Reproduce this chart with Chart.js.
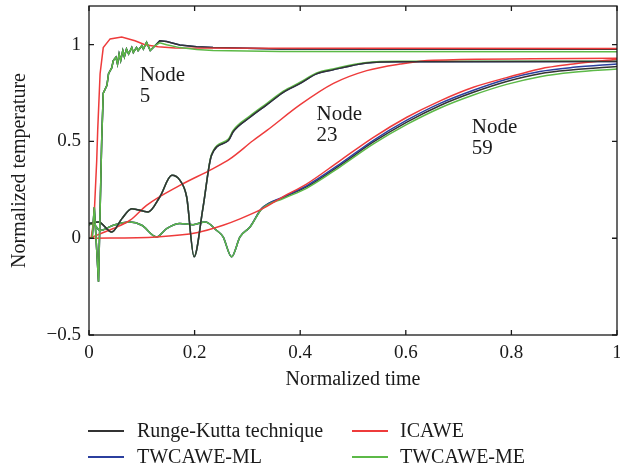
<!DOCTYPE html>
<html>
<head>
<meta charset="utf-8">
<script src="https://cdn.jsdelivr.net/npm/chart.js@4.4.1/dist/chart.umd.min.js"></script>
<style>
  body { margin: 0; background: #fff; }
  #wrap { position: relative; width: 620px; height: 470px; font-family: "Liberation Serif", "DejaVu Serif", serif; color: #1a1a1a; }
  .lg-line { position: absolute; width: 36px; height: 2px; }
  .lg-text { position: absolute; font-size: 20px; line-height: 20px; white-space: nowrap; }
</style>
</head>
<body>
<div id="wrap">
  <canvas id="chart" width="620" height="470"></canvas>
  <div class="lg-line" style="left:88px; top:430px; background:#333333"></div>
  <div class="lg-text" style="left:137px; top:420px">Runge-Kutta technique</div>
  <div class="lg-line" style="left:352px; top:430px; background:#ee3b3b"></div>
  <div class="lg-text" style="left:400px; top:420px">ICAWE</div>
  <div class="lg-line" style="left:88px; top:456px; background:#2b3f9e"></div>
  <div class="lg-text" style="left:137px; top:446px">TWCAWE-ML</div>
  <div class="lg-line" style="left:352px; top:456px; background:#5cb947"></div>
  <div class="lg-text" style="left:400px; top:446px">TWCAWE-ME</div>
</div>
<script>
// tick values
const xTickValues = [0, 0.2, 0.4, 0.6, 0.8, 1];
const yTickValues = [-0.5, 0, 0.5, 1];

// Node 5 - Runge-Kutta (TWCAWE follow it closely)
const rk5 = [[0,0],[0.006,0],[0.010,0.16],[0.018,-0.225],[0.024,0.5],[0.027,0.75],[0.034,0.79],[0.037,0.85],
  [0.043,0.88],[0.046,0.918],[0.051,0.935],[0.054,0.90],[0.057,0.952],[0.060,0.918],[0.064,0.97],[0.067,0.938],
  [0.071,0.978],[0.075,0.952],[0.081,0.986],[0.084,0.96],[0.090,0.986],[0.093,0.97],[0.100,0.995],[0.103,0.978],
  [0.109,1.012],[0.116,0.97],[0.125,0.995],[0.134,1.02],[0.147,1.017],[0.172,0.998],[0.204,0.99],[0.235,0.985],
  [0.362,0.978],[1,0.977]];
const me5 = [[0,0],[0.006,0],[0.010,0.16],[0.018,-0.225],[0.024,0.5],[0.027,0.75],[0.034,0.79],[0.037,0.85],
  [0.043,0.88],[0.046,0.918],[0.051,0.935],[0.054,0.90],[0.057,0.952],[0.060,0.918],[0.064,0.97],[0.067,0.938],
  [0.071,0.978],[0.075,0.952],[0.081,0.986],[0.084,0.96],[0.090,0.986],[0.093,0.97],[0.100,0.995],[0.103,0.978],
  [0.109,1.012],[0.116,0.97],[0.125,0.995],[0.134,1.01],[0.147,1.0],[0.172,0.985],[0.204,0.975],[0.235,0.97],
  [0.362,0.965],[1,0.963]];
const ic5 = [[0,0],[0.004,0],[0.0095,0.1],[0.0146,0.4],[0.0165,0.56],[0.021,0.85],[0.027,0.985],[0.04,1.03],
  [0.062,1.04],[0.087,1.02],[0.106,1.0],[0.131,0.99],[0.163,0.983],[1,0.981]];

// Node 23
const rk23 = [[0,0.076],[0.018,0.084],[0.043,0.032],[0.062,0.10],[0.081,0.153],[0.112,0.136],[0.134,0.213],
  [0.157,0.325],[0.172,0.30],[0.185,0.213],[0.199,-0.096],[0.216,0.16],[0.232,0.428],[0.264,0.505],[0.273,0.55],
  [0.305,0.625],[0.337,0.69],[0.368,0.754],[0.40,0.80],[0.431,0.849],[0.462,0.87],[0.526,0.905],[0.589,0.912],[1,0.913]];
const me23 = [[0,0.076],[0.018,0.084],[0.043,0.032],[0.062,0.10],[0.081,0.153],[0.112,0.136],[0.134,0.213],
  [0.157,0.325],[0.172,0.30],[0.185,0.213],[0.199,-0.096],[0.216,0.16],[0.232,0.432],[0.264,0.512],[0.273,0.557],
  [0.305,0.632],[0.337,0.697],[0.368,0.76],[0.40,0.806],[0.431,0.854],[0.462,0.875],[0.526,0.908],[0.589,0.914],[1,0.915]];
const ic23 = [[0,0],[0.046,0.05],[0.078,0.093],[0.109,0.17],[0.172,0.273],[0.235,0.36],[0.267,0.41],[0.311,0.505],
  [0.337,0.557],[0.40,0.69],[0.463,0.80],[0.526,0.866],[0.589,0.90],[0.652,0.92],[1,0.93]];

// Node 59
const rk59 = [[0,0.07],[0.007,0.076],[0.021,0.04],[0.046,0.067],[0.078,0.084],[0.10,0.067],[0.128,0.007],[0.147,0.05],
  [0.172,0.076],[0.197,0.07],[0.22,0.084],[0.242,0.04],[0.254,0.007],[0.27,-0.096],[0.286,0.007],[0.305,0.058],
  [0.327,0.153],[0.368,0.21],[0.412,0.265],[0.475,0.376],[0.538,0.496],[0.602,0.60],[0.665,0.686],[0.728,0.754],
  [0.791,0.81],[0.854,0.85],[0.917,0.87],[1,0.887]];
const ml59 = [[0,0.07],[0.007,0.076],[0.021,0.04],[0.046,0.067],[0.078,0.084],[0.10,0.067],[0.128,0.007],[0.147,0.05],
  [0.172,0.076],[0.197,0.07],[0.22,0.084],[0.242,0.04],[0.254,0.007],[0.27,-0.096],[0.286,0.007],[0.305,0.058],
  [0.327,0.153],[0.368,0.214],[0.412,0.271],[0.475,0.383],[0.538,0.505],[0.602,0.61],[0.665,0.697],[0.728,0.765],
  [0.791,0.822],[0.854,0.862],[0.917,0.883],[1,0.90]];
const me59 = [[0,0.07],[0.007,0.076],[0.021,0.04],[0.046,0.067],[0.078,0.084],[0.10,0.067],[0.128,0.007],[0.147,0.05],
  [0.172,0.076],[0.197,0.07],[0.22,0.084],[0.242,0.04],[0.254,0.007],[0.27,-0.096],[0.286,0.007],[0.305,0.058],
  [0.327,0.15],[0.368,0.205],[0.412,0.258],[0.475,0.368],[0.538,0.486],[0.602,0.588],[0.665,0.673],[0.728,0.74],
  [0.791,0.795],[0.854,0.835],[0.917,0.858],[1,0.875]];
const ic59 = [[0,0],[0.128,0.007],[0.206,0.03],[0.254,0.067],[0.286,0.10],[0.327,0.15],[0.368,0.215],[0.412,0.28],
  [0.475,0.40],[0.538,0.52],[0.602,0.625],[0.665,0.71],[0.728,0.78],[0.791,0.83],[0.854,0.875],[0.917,0.90],[1,0.925]];

// annotations (data coords of first baseline)
const nodeLabels = [
  { x: 0.096, y: 0.81, lines: ['Node', '5'] },
  { x: 0.431, y: 0.611, lines: ['Node', '23'] },
  { x: 0.725, y: 0.542, lines: ['Node', '59'] }
];

const RK = '#333333', IC = '#ee3b3b', ML = '#2b3f9e', ME = '#5cb947';
const textColor = '#1a1a1a';

function line(data, color, order, smooth) {
  return {
    data: data,
    borderColor: color,
    borderWidth: 1.5,
    pointRadius: 0,
    fill: false,
    order: order,
    cubicInterpolationMode: smooth ? 'monotone' : 'default',
    tension: 0
  };
}

const framePlugin = {
  id: 'frame',
  afterDatasetsDraw(chart) {
    const { ctx, chartArea: a, scales: { x, y } } = chart;
    ctx.save();
    ctx.strokeStyle = '#1a1a1a';
    ctx.lineWidth = 1.3;
    ctx.strokeRect(a.left, a.top, a.right - a.left, a.bottom - a.top);
    ctx.beginPath();
    xTickValues.forEach(v => {
      const px = x.getPixelForValue(v);
      ctx.moveTo(px, a.bottom); ctx.lineTo(px, a.bottom - 5);
      ctx.moveTo(px, a.top); ctx.lineTo(px, a.top + 5);
    });
    yTickValues.forEach(v => {
      const py = y.getPixelForValue(v);
      ctx.moveTo(a.left, py); ctx.lineTo(a.left + 5, py);
      ctx.moveTo(a.right, py); ctx.lineTo(a.right - 5, py);
    });
    ctx.stroke();

    // node labels
    ctx.fillStyle = textColor;
    ctx.font = '21px "Liberation Serif", serif';
    ctx.textAlign = 'left';
    ctx.textBaseline = 'alphabetic';
    nodeLabels.forEach(l => {
      const px = x.getPixelForValue(l.x);
      const py = y.getPixelForValue(l.y);
      l.lines.forEach((t, i) => ctx.fillText(t, px, py + i * 21));
    });
    ctx.restore();
  }
};

const fmt = v => {
  const s = String(Math.round(v * 10) / 10);
  return s.replace('-', '\u2212');
};

new Chart(document.getElementById('chart'), {
  type: 'line',
  data: {
    datasets: [
      line(me5, ME, 0, false),
      line(ic5, IC, 0, false),
      line(rk5, RK, 1, false),
      line(rk5, ML, 2, false),
      line(rk23, RK, 0, true),
      line(ic23, IC, 0, true),
      line(me23, ME, 1, true),
      line(rk23, ML, 2, true),
      line(ic59, IC, 0, true),
      line(me59, ME, 0, true),
      line(ml59, ML, 0, true),
      line(rk59, RK, 1, true)
    ]
  },
  options: {
    responsive: false,
    animation: false,
    devicePixelRatio: 1,
    layout: { padding: { left: 0, right: 3, top: 6, bottom: 70 } },
    plugins: { legend: { display: false }, tooltip: { enabled: false } },
    scales: {
      x: {
        type: 'linear',
        min: 0,
        max: 1,
        afterBuildTicks: s => { s.ticks = xTickValues.map(v => ({ value: v })); },
        afterFit: s => { s.height = 65; s.paddingLeft = 0; s.paddingRight = 0; },
        grid: { display: false, drawTicks: false },
        border: { display: false },
        ticks: {
          padding: 7,
          color: textColor,
          font: { family: '"Liberation Serif", serif', size: 19 },
          maxRotation: 0,
          callback: v => fmt(v)
        },
        title: {
          display: true,
          text: 'Normalized time',
          color: textColor,
          font: { family: '"Liberation Serif", serif', size: 20 },
          padding: { top: 0, bottom: 8 }
        }
      },
      y: {
        min: -0.5,
        max: 1.2,
        afterBuildTicks: s => { s.ticks = yTickValues.map(v => ({ value: v })); },
        afterFit: s => { s.width = 89; s.paddingTop = 0; s.paddingBottom = 0; },
        grid: { display: false, drawTicks: false },
        border: { display: false },
        ticks: {
          padding: 8,
          color: textColor,
          font: { family: '"Liberation Serif", serif', size: 19 },
          callback: v => fmt(v)
        },
        title: {
          display: true,
          text: 'Normalized temperature',
          color: textColor,
          font: { family: '"Liberation Serif", serif', size: 20 },
          padding: { top: 8, bottom: 0 }
        }
      }
    }
  },
  plugins: [framePlugin]
});
</script>
</body>
</html>
